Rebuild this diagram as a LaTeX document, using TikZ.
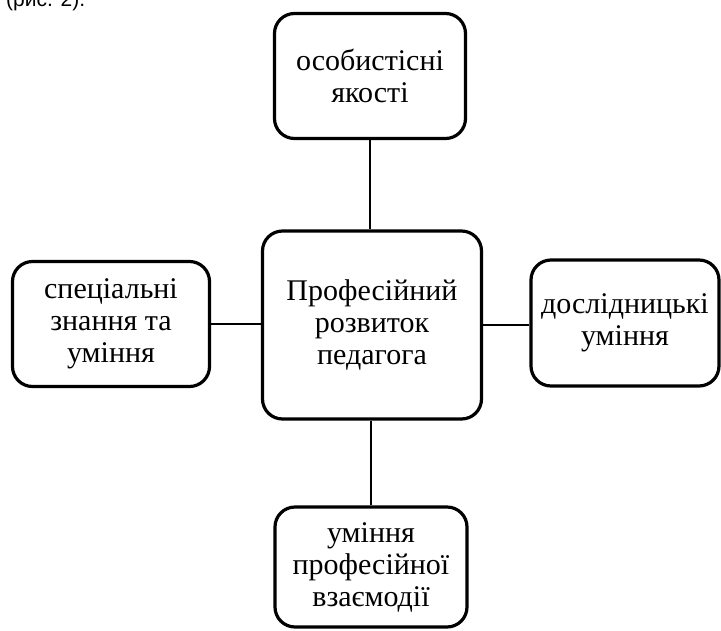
\documentclass[tikz,border=0pt]{standalone}
\usepackage{fontspec}
\setmainfont{Liberation Serif}
\newfontfamily\capfont{Liberation Sans}
\begin{document}
\begin{tikzpicture}[x=1pt,y=-1pt,
  box/.style={draw=black, line width=3.2pt, rounded corners=20pt, fill=white,
    align=center, inner sep=0pt, font=\fontsize{30}{32}\selectfont},
  conn/.style={draw=black, line width=1.5pt}]
\useasboundingbox (0,0) rectangle (721,630);
\node[anchor=base west, inner sep=0pt, font=\capfont\fontsize{21}{24}\selectfont] (cap) at (6,6) {(рис. 2).};
\node[box, minimum width=191pt, minimum height=125pt] (top) at (370,76) {особистісні\\якості};
\node[box, minimum width=219pt, minimum height=188pt] (mid) at (372,325) {Професійний\\розвиток\\педагога};
\node[box, minimum width=197pt, minimum height=125pt] (left) at (111,324) {спеціальні\\знання та\\уміння};
\node[box, minimum width=188pt, minimum height=126pt] (right) at (625,323) {дослідницькі\\уміння};
\node[box, minimum width=192pt, minimum height=120pt] (bot) at (371,567) {уміння\\професійної\\взаємодії};
\draw[conn] (top.south) -- (top.south |- mid.north);
\draw[conn] (left.east) -- (left.east -| mid.west);
\draw[conn] (mid.east) -- (mid.east -| right.west);
\draw[conn] (bot.north) -- (bot.north |- mid.south);
\end{tikzpicture}
\end{document}
